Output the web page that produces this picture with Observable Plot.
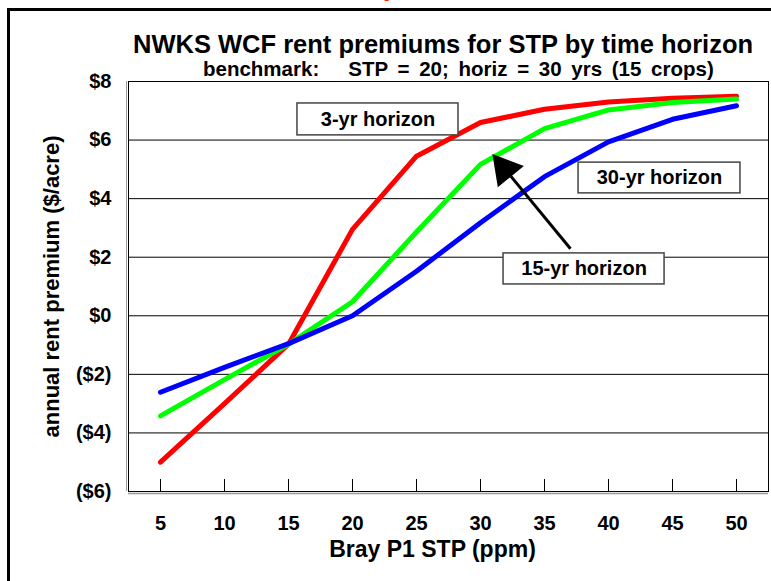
<!DOCTYPE html>
<html>
<head>
<meta charset="utf-8">
<script src="https://cdn.jsdelivr.net/npm/d3@7"></script>
<script src="https://cdn.jsdelivr.net/npm/@observablehq/plot@0.6"></script>
<style>
  html, body { margin: 0; padding: 0; background: #fff; }
  body { width: 771px; height: 581px; overflow: hidden; position: relative; font-family: "Liberation Sans", Arial, sans-serif; }
  #frame { position: absolute; left: 7px; top: 8px; width: 800px; height: 620px; border: 3px solid #000; box-sizing: border-box; }
  .t { position: absolute; font-weight: bold; line-height: 1; white-space: pre; color: #000; }
  #title { left: 133px; top: 32px; font-size: 25.5px; }
  #subtitle { left: 203px; top: 59px; font-size: 20.5px; word-spacing: 4px; }
  .note { position: absolute; top: -22px; font-size: 22px; font-weight: bold; font-style: italic; color: #ff2000; white-space: pre; line-height: 1; }
  #chart { position: absolute; left: 0; top: 0; }
</style>
</head>
<body>
<div class="note" style="right: 406px;">STP rent value,</div>
<div class="note" style="left: 366px;"> by horizon</div>
<div id="frame"></div>
<div id="chart"></div>
<div id="title" class="t">NWKS WCF rent premiums for STP by time horizon</div>
<div id="subtitle" class="t">benchmark:   STP = 20; horiz = 30 yrs (15 crops)</div>
<script>
// ---- data ----
const stp = [5, 10, 15, 20, 25, 30, 35, 40, 45, 50];
const prem3yr  = [-5.00, -3.00, -0.97, 2.95, 5.45, 6.60, 7.05, 7.30, 7.43, 7.50];
const prem15yr = [-3.42, -2.18, -0.97, 0.48, 2.86, 5.17, 6.39, 7.03, 7.28, 7.40];
const prem30yr = [-2.61, -1.76, -0.95, 0.00, 1.52, 3.18, 4.75, 5.94, 6.71, 7.17];
const yTicks = [-6, -4, -2, 0, 2, 4, 6, 8];
const yGrid = [-4, -2, 0, 2, 4, 6];

// annotation boxes (data units)
const boxLabels = ["3-yr horizon", "30-yr horizon", "15-yr horizon"];
const boxX1 = [15.7, 37.66, 31.8];
const boxX2 = [28.28, 50.31, 44.38];
const boxY1 = [6.16, 4.18, 1.07];
const boxY2 = [7.25, 5.23, 2.13];
// arrow from the 15-yr box to the 15-yr line
const arrowTail = {x: 37.03, y: 2.29};
const arrowBase = {x: 32.38, y: 4.76};
const arrowHead = {x: 31.89, y: 5.01};

const series = [
  {name: "3-yr", values: prem3yr, color: "#ff0000"},
  {name: "15-yr", values: prem15yr, color: "#00ff00"},
  {name: "30-yr", values: prem30yr, color: "#0000ff"}
];
const rows = series.flatMap(s => stp.map((x, i) => ({series: s.name, x, y: s.values[i], color: s.color})));
const boxes = boxLabels.map((label, i) => ({label, x1: boxX1[i], x2: boxX2[i], y1: boxY1[i], y2: boxY2[i]}));

const fmt = v => v < 0 ? `($${-v})` : `$${v}`;

const plot = Plot.plot({
  width: 771,
  height: 581,
  marginLeft: 128,
  marginRight: 3,
  marginTop: 81,
  marginBottom: 90,
  style: {background: "transparent", fontFamily: "Liberation Sans, Arial, sans-serif", fontWeight: "bold", color: "#000"},
  x: {domain: [2.5, 52.5]},
  y: {domain: [-6, 8]},
  marks: [
    Plot.ruleY(yGrid, {stroke: "#000", strokeWidth: 1}),
    Plot.ruleY([-6], {stroke: "#999", strokeWidth: 1.5, dy: 2}),
    Plot.ruleX([2.5], {stroke: "#999", strokeWidth: 1, dx: -2}),
    Plot.frame({stroke: "#000", strokeWidth: 1}),
    Plot.tickX(stp, {x: d => d, insetTop: 398, stroke: "#000"}),
    Plot.axisX({ticks: stp, tickSize: 0, tickPadding: 24, fontSize: 20, tickFormat: d => `${d}`, label: null}),
    Plot.axisY({ticks: yTicks, tickSize: 0, tickPadding: 17, fontSize: 20, tickFormat: fmt, label: null}),
    Plot.text(["annual rent premium ($/acre)"], {frameAnchor: "left", textAnchor: "middle", rotate: -90, dx: -77, fontSize: 22, fontWeight: "bold"}),
    Plot.text(["Bray P1 STP (ppm)"], {frameAnchor: "bottom", textAnchor: "middle", dx: -16, dy: 65, fontSize: 23, fontWeight: "bold"}),
    Plot.line(rows, {x: "x", y: "y", z: "series", stroke: "color", strokeWidth: 5, strokeLinecap: "round", strokeLinejoin: "round"}),
    Plot.rect(boxes, {x1: "x1", x2: "x2", y1: "y1", y2: "y2", fill: "#fff", stroke: "#444", strokeWidth: 1.5}),
    Plot.text(boxes, {x: d => (d.x1 + d.x2) / 2, y: d => (d.y1 + d.y2) / 2, text: "label", fontSize: 20, fontWeight: "bold", fill: "#000"}),
    Plot.link([{a: arrowTail, b: arrowBase}], {x1: d => d.a.x, y1: d => d.a.y, x2: d => d.b.x, y2: d => d.b.y, stroke: "#000", strokeWidth: 3}),
    Plot.dot([arrowHead], {x: "x", y: "y", symbol: "triangle", r: 12.5, fill: "#000", stroke: "none", rotate: -39.3})
  ]
});
document.getElementById("chart").appendChild(plot);
</script>
</body>
</html>
